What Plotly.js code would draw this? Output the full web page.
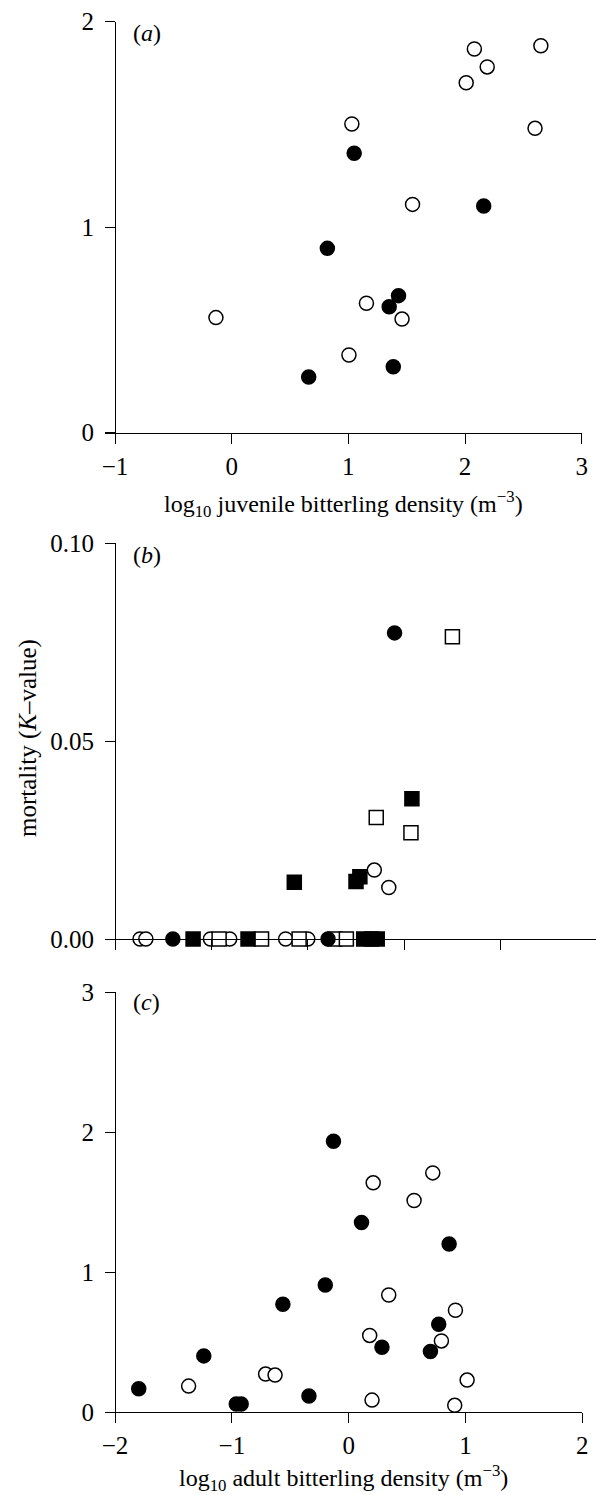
<!DOCTYPE html>
<html>
<head>
<meta charset="utf-8">
<script src="https://cdn.plot.ly/plotly-3.0.1.min.js"></script>
<style>html,body{margin:0;padding:0;background:#fff}</style>
</head>
<body>
<div id="chart" style="width:596px;height:1495px"></div>
<script>
// ---------- Panel (a): juvenile density ----------
const aOpenX   = [2.08, 2.65, 2.19, 2.01, 1.03, 2.60, 1.55, 1.155, -0.135, 1.46, 1.005];
const aOpenY   = [1.867, 1.883, 1.78, 1.703, 1.502, 1.481, 1.111, 0.63, 0.56, 0.553, 0.378];
const aFilledX = [1.05, 2.16, 0.82, 1.43, 1.35, 1.385, 0.66];
const aFilledY = [1.36, 1.103, 0.897, 0.667, 0.613, 0.321, 0.271];
const aXTicks  = [-1, 0, 1, 2, 3];
const aYTicks  = [0, 1, 2];

// ---------- Panel (b): mortality ----------
const bFilledCircleX = [0.90, -1.40, 0.21];
const bFilledCircleY = [0.0773, 0, 0];
const bOpenCircleX   = [0.69, 0.84, -1.74, -1.68, -1.01, -0.81, -0.23, 0.00];
const bOpenCircleY   = [0.0174, 0.0130, 0, 0, 0, 0, 0, 0];
const bFilledSquareX = [1.08, 0.54, 0.50, -0.14, -1.19, -0.62, 0.58, 0.66, 0.72];
const bFilledSquareY = [0.0354, 0.0157, 0.0145, 0.0143, 0, 0, 0, 0, 0];
const bOpenSquareX   = [1.50, 0.71, 1.07, -0.92, -0.48, -0.09, 0.28, 0.40];
const bOpenSquareY   = [0.0763, 0.0307, 0.0268, 0, 0, 0, 0, 0];
const bXTicks = [-2, -1, 0, 1, 2, 3];
const bYTicks = [0, 0.05, 0.10];

// ---------- Panel (c): adult density ----------
const cOpenX   = [0.21, 0.72, 0.56, 0.343, 0.914, 0.18, 0.794, -0.711, -0.63, 1.014, -1.37, 0.20, 0.908];
const cOpenY   = [1.637, 1.708, 1.511, 0.836, 0.727, 0.547, 0.508, 0.271, 0.264, 0.228, 0.185, 0.085, 0.048];
const cFilledX = [-0.13, 0.11, 0.86, -0.2, -0.563, 0.771, 0.285, 0.70, -1.24, -1.797, -0.34, -0.962, -0.92];
const cFilledY = [1.934, 1.354, 1.2, 0.907, 0.77, 0.627, 0.463, 0.433, 0.401, 0.166, 0.114, 0.057, 0.057];
const cXTicks  = [-2, -1, 0, 1, 2];
const cYTicks  = [0, 1, 2, 3];

const W = 596, H = 1495;
const FONT = 'Liberation Serif, Times New Roman, Times, serif';
const MS = 14, LW = 1.5;
const TICK_SIZE = 25, TITLE_SIZE = 24;

function filled(sym){ return {symbol: sym, size: MS, color: 'black', line: {color: 'black', width: LW}}; }
function open(sym){ return {symbol: sym, size: MS, color: 'white', line: {color: 'black', width: LW}}; }
function tr(x, y, marker, xa, ya){ return {type: 'scatter', mode: 'markers', x: x, y: y, marker: marker, xaxis: xa, yaxis: ya, hoverinfo: 'skip'}; }

const data = [
  tr(aOpenX, aOpenY, open('circle'), 'x', 'y'),
  tr(aFilledX, aFilledY, filled('circle'), 'x', 'y'),
  tr(bOpenCircleX, bOpenCircleY, open('circle'), 'x2', 'y2'),
  tr(bOpenSquareX, bOpenSquareY, open('square'), 'x2', 'y2'),
  tr(bFilledCircleX, bFilledCircleY, filled('circle'), 'x2', 'y2'),
  tr(bFilledSquareX, bFilledSquareY, filled('square'), 'x2', 'y2'),
  tr(cOpenX, cOpenY, open('circle'), 'x3', 'y3'),
  tr(cFilledX, cFilledY, filled('circle'), 'x3', 'y3')
];

// panel geometry (pixels): left, right, top, bottom of plot area; data ranges
const panels = [
  {l: 105, r: 581.7, t: 21.7, b: 443, xr: [-1 - 10/116.5, 3], yr: [-10.3/205.5, 2], x0: -1, y0: 0},
  {l: 105, r: 596,   t: 543,  b: 949, xr: [-2 - 10/96.4, 3 - 1/96.4], yr: [-10/3960, 0.10], x0: -2, y0: 0},
  {l: 105, r: 582.3, t: 992,  b: 1422, xr: [-2 - 10/116.7, 2], yr: [-10/140.3, 3], x0: -2, y0: 0}
];

function dom(p){
  return {xd: [p.l/W, p.r/W], yd: [1 - p.b/H, 1 - p.t/H]};
}
function posX(p, v){ const d = dom(p).xd; return d[0] + (v - p.xr[0])/(p.xr[1]-p.xr[0])*(d[1]-d[0]); }
function posY(p, v){ const d = dom(p).yd; return d[0] + (v - p.yr[0])/(p.yr[1]-p.yr[0])*(d[1]-d[0]); }

const tickFont = {family: FONT, size: TICK_SIZE, color: 'black'};
const titleFont = {family: FONT, size: TITLE_SIZE, color: 'black'};
function xAxis(p, ticks, showLabels, title, standoff){
  const d = dom(p);
  const ax = {domain: d.xd, range: p.xr, anchor: 'free', position: posY(p, p.y0),
    showline: true, linecolor: 'black', linewidth: 1, showgrid: false, zeroline: false,
    ticks: 'outside', ticklen: 10, tickwidth: 1, tickcolor: 'black',
    tickmode: 'array', tickvals: ticks, showticklabels: showLabels, tickfont: tickFont,
    ticklabelstandoff: 1, fixedrange: true};
  if (title) ax.title = {text: title, font: titleFont, standoff: standoff};
  return ax;
}
function yAxis(p, ticks, fmt){
  const d = dom(p);
  return {domain: d.yd, range: p.yr, anchor: 'free', position: posX(p, p.x0),
    showline: true, linecolor: 'black', linewidth: 1, showgrid: false, zeroline: false,
    ticks: 'outside', ticklen: 10, tickwidth: 1, tickcolor: 'black',
    tickmode: 'array', tickvals: ticks, tickformat: fmt, tickfont: tickFont,
    ticklabelstandoff: 6, fixedrange: true};
}

const layout = {
  width: W, height: H,
  margin: {l: 0, r: 0, t: 0, b: 0},
  paper_bgcolor: 'white', plot_bgcolor: 'rgba(0,0,0,0)',
  showlegend: false,
  font: {family: FONT, size: TICK_SIZE, color: 'black'},
  xaxis:  xAxis(panels[0], aXTicks, true, 'log<sub>10</sub> juvenile bitterling density (m<sup>−3</sup>)', 16),
  yaxis:  yAxis(panels[0], aYTicks, 'd'),
  xaxis2: xAxis(panels[1], bXTicks, false),
  yaxis2: yAxis(panels[1], bYTicks, '.2f'),
  xaxis3: xAxis(panels[2], cXTicks, true, 'log<sub>10</sub> adult bitterling density (m<sup>−3</sup>)', 24),
  yaxis3: yAxis(panels[2], cYTicks, 'd'),
  annotations: [
    {text: 'mortality (<i>K</i>–value)', xref: 'paper', yref: 'paper', x: 28/W, y: 1 - 738/H, xanchor: 'center', yanchor: 'middle', textangle: -90, showarrow: false, font: {family: FONT, size: 25, color: 'black'}},
    {text: '(<i>a</i>)', xref: 'paper', yref: 'paper', x: 131/W, y: 1 - 33/H, xanchor: 'left', yanchor: 'middle', showarrow: false, font: titleFont},
    {text: '(<i>b</i>)', xref: 'paper', yref: 'paper', x: 131/W, y: 1 - 555/H, xanchor: 'left', yanchor: 'middle', showarrow: false, font: titleFont},
    {text: '(<i>c</i>)', xref: 'paper', yref: 'paper', x: 131/W, y: 1 - 1002/H, xanchor: 'left', yanchor: 'middle', showarrow: false, font: titleFont}
  ]
};

Plotly.newPlot('chart', data, layout, {staticPlot: true, displayModeBar: false});
</script>
</body>
</html>
